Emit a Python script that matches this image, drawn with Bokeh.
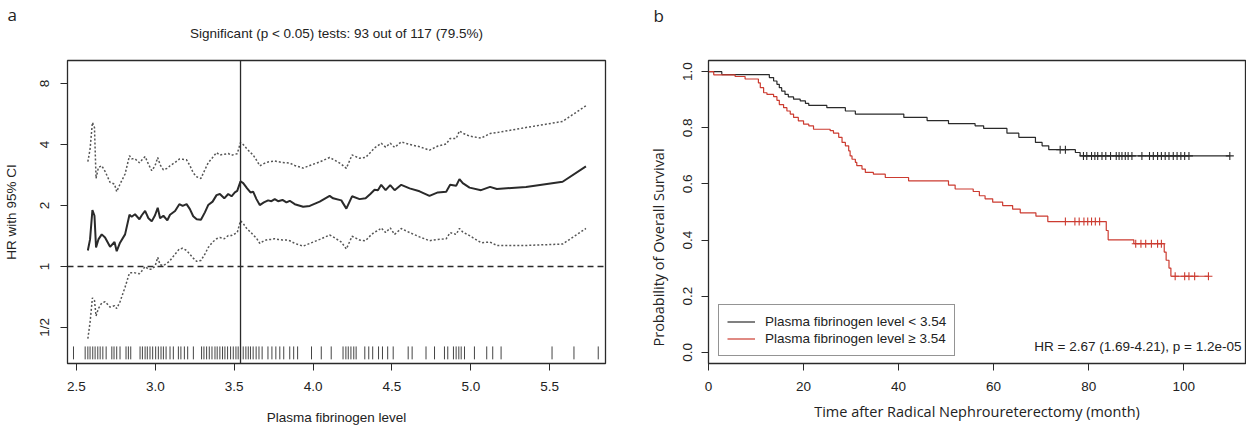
import numpy as np
from bokeh.plotting import figure
from bokeh.layouts import row
from bokeh.models import (Range1d, FixedTicker, PrintfTickFormatter, Span, Label, Title,
                          Legend, LegendItem)
from bokeh.core.properties import value
from bokeh.embed import file_html
from bokeh.resources import INLINE

# ---------------- Panel a: HR over cut-off values ----------------
cutoff_x = [2.572, 2.586, 2.601, 2.614, 2.624, 2.639, 2.660, 2.681, 2.713, 2.741, 2.755, 2.776,
            2.808, 2.836, 2.850, 2.871, 2.899, 2.914, 2.935, 2.956, 2.977, 2.998, 3.015, 3.030,
            3.051, 3.076, 3.093, 3.125, 3.152, 3.173, 3.198, 3.219, 3.240, 3.262, 3.289, 3.314,
            3.335, 3.363, 3.388, 3.409, 3.437, 3.462, 3.483, 3.504, 3.519, 3.540, 3.557, 3.582,
            3.603, 3.620, 3.641, 3.662, 3.688, 3.715, 3.736, 3.757, 3.778, 3.806, 3.831, 3.852,
            3.884, 3.937, 3.979, 4.042, 4.105, 4.127, 4.179, 4.211, 4.247, 4.295, 4.333, 4.363,
            4.390, 4.411, 4.432, 4.460, 4.489, 4.517, 4.559, 4.612, 4.675, 4.738, 4.791, 4.844,
            4.869, 4.907, 4.928, 4.949, 4.992, 5.065, 5.122, 5.165, 5.350, 5.582, 5.730]
hr = [1.20, 1.36, 1.90, 1.78, 1.24, 1.36, 1.44, 1.39, 1.25, 1.32, 1.19, 1.31,
      1.44, 1.80, 1.76, 1.81, 1.71, 1.79, 1.88, 1.73, 1.67, 1.79, 1.95, 1.73,
      1.78, 1.69, 1.80, 1.88, 2.03, 1.99, 2.03, 1.92, 1.77, 1.71, 1.70, 1.85,
      2.01, 2.09, 2.25, 2.28, 2.17, 2.28, 2.22, 2.32, 2.36, 2.63, 2.58, 2.43,
      2.32, 2.34, 2.15, 2.01, 2.07, 2.12, 2.10, 2.15, 2.10, 2.13, 2.07, 2.11,
      2.03, 1.97, 1.99, 2.09, 2.23, 2.17, 2.12, 1.93, 2.22, 2.15, 2.17, 2.28,
      2.39, 2.38, 2.53, 2.38, 2.52, 2.38, 2.53, 2.43, 2.35, 2.23, 2.32, 2.34,
      2.53, 2.50, 2.70, 2.58, 2.45, 2.38, 2.47, 2.41, 2.47, 2.62, 3.12]
hr_upper = [3.29, 3.79, 5.14, 4.85, 2.72, 3.08, 3.14, 2.95, 2.60, 2.55, 2.34, 2.55,
            2.86, 3.52, 3.40, 3.40, 3.25, 3.35, 3.49, 3.20, 2.97, 3.14, 3.45, 3.18,
            3.00, 3.05, 3.14, 3.26, 3.39, 3.38, 3.36, 3.15, 2.90, 2.77, 2.72, 3.00,
            3.25, 3.45, 3.65, 3.55, 3.58, 3.61, 3.54, 3.58, 3.60, 4.09, 4.00, 3.80,
            3.65, 3.55, 3.35, 3.14, 3.22, 3.28, 3.30, 3.32, 3.29, 3.26, 3.25, 3.24,
            3.15, 3.06, 3.15, 3.28, 3.45, 3.38, 3.20, 3.05, 3.55, 3.42, 3.45, 3.65,
            3.85, 3.95, 4.06, 3.88, 4.06, 3.87, 4.12, 4.00, 3.90, 3.75, 3.93, 4.02,
            4.28, 4.28, 4.67, 4.55, 4.40, 4.30, 4.53, 4.58, 4.85, 5.20, 6.21]
hr_lower = [0.44, 0.53, 0.70, 0.68, 0.57, 0.62, 0.66, 0.67, 0.63, 0.64, 0.62, 0.67,
            0.79, 0.93, 0.93, 0.93, 0.92, 0.95, 1.00, 0.97, 0.97, 1.00, 1.11, 1.02,
            1.01, 1.04, 1.07, 1.15, 1.22, 1.23, 1.20, 1.15, 1.10, 1.06, 1.07, 1.15,
            1.24, 1.32, 1.37, 1.39, 1.37, 1.42, 1.42, 1.45, 1.47, 1.68, 1.63, 1.53,
            1.48, 1.43, 1.38, 1.30, 1.34, 1.36, 1.36, 1.37, 1.36, 1.35, 1.35, 1.34,
            1.30, 1.26, 1.30, 1.36, 1.43, 1.40, 1.32, 1.22, 1.41, 1.35, 1.34, 1.42,
            1.48, 1.50, 1.55, 1.47, 1.55, 1.44, 1.54, 1.47, 1.40, 1.34, 1.36, 1.37,
            1.47, 1.44, 1.54, 1.48, 1.42, 1.31, 1.32, 1.27, 1.27, 1.29, 1.54]
rug_values = [2.481, 2.555, 2.572, 2.586, 2.603, 2.618, 2.635, 2.650, 2.667, 2.688, 2.724, 2.738,
              2.755, 2.776, 2.814, 2.829, 2.844, 2.903, 2.918, 2.935, 2.949, 2.966, 2.983, 3.002,
              3.019, 3.036, 3.051, 3.068, 3.093, 3.114, 3.146, 3.162, 3.184, 3.205, 3.241, 3.293,
              3.308, 3.325, 3.342, 3.359, 3.378, 3.392, 3.409, 3.426, 3.441, 3.458, 3.477, 3.494,
              3.511, 3.525, 3.540, 3.557, 3.574, 3.589, 3.603, 3.620, 3.639, 3.657, 3.677, 3.714,
              3.739, 3.764, 3.789, 3.814, 3.852, 3.877, 3.902, 3.990, 4.052, 4.115, 4.190, 4.208,
              4.223, 4.240, 4.258, 4.273, 4.328, 4.353, 4.378, 4.415, 4.440, 4.473, 4.508, 4.603,
              4.628, 4.716, 4.770, 4.833, 4.854, 4.890, 4.907, 4.924, 4.939, 4.960, 5.023, 5.101,
              5.139, 5.192, 5.515, 5.654, 5.808]
chosen_cutoff = 3.54
hr_ticks = [0.5, 1, 2, 4, 8]
hr_tick_labels = ["1/2", "1", "2", "4", "8"]
fib_ticks = [2.5, 3.0, 3.5, 4.0, 4.5, 5.0, 5.5]
title_a = "Significant (p < 0.05) tests: 93 out of 117 (79.5%)"

# ---------------- Panel b: Kaplan-Meier ----------------
time_low = [0, 2.8, 12.8, 13.7, 14.4, 14.9, 15.4, 16.1, 16.8, 17.9, 19.3, 20.4, 21.1, 24.9,
            28.8, 30.9, 41.1, 46.0, 50.5, 56.1, 57.9, 62.8, 65.3, 68.8, 70.2, 71.6, 77.2, 78.2]
surv_low = [1.0, 0.990, 0.979, 0.967, 0.955, 0.943, 0.931, 0.919, 0.910, 0.902, 0.896, 0.887,
            0.880, 0.872, 0.860, 0.849, 0.837, 0.826, 0.815, 0.807, 0.798, 0.781, 0.766, 0.748,
            0.736, 0.722, 0.712, 0.700]
cens_low = [74.0, 75.1, 78.9, 79.6, 80.6, 81.3, 81.9, 82.8, 83.6, 84.6, 85.8, 86.4, 87.0, 87.7,
            88.3, 89.1, 91.2, 92.8, 93.6, 94.5, 95.3, 96.1, 96.9, 97.8, 98.6, 99.4, 100.2, 101.1, 109.7]
time_high = [0, 1.1, 5.6, 7.7, 10.5, 10.9, 11.6, 12.3, 13.7, 14.4, 14.9, 15.8, 16.5, 17.2, 17.9,
             18.9, 20.0, 21.1, 22.1, 25.6, 26.3, 27.4, 28.1, 28.8, 29.5, 29.8, 30.2, 30.9, 31.2,
             32.3, 33.0, 34.7, 37.2, 42.1, 50.5, 51.9, 55.7, 57.0, 58.2, 59.8, 61.9, 64.0, 65.6,
             68.9, 71.4, 83.7, 84.1, 89.5, 95.9, 96.3, 96.9, 97.3]
surv_high = [1.0, 0.989, 0.983, 0.974, 0.960, 0.943, 0.925, 0.919, 0.911, 0.898, 0.883, 0.872,
             0.860, 0.849, 0.837, 0.825, 0.813, 0.807, 0.795, 0.790, 0.781, 0.766, 0.748, 0.736,
             0.718, 0.700, 0.688, 0.677, 0.665, 0.653, 0.641, 0.635, 0.623, 0.611, 0.596, 0.582,
             0.573, 0.558, 0.547, 0.535, 0.523, 0.510, 0.497, 0.485, 0.466, 0.434, 0.401, 0.387,
             0.357, 0.328, 0.300, 0.271]
cens_high = [75.1, 77.1, 78.0, 79.0, 79.8, 80.6, 81.4, 82.3, 89.9, 91.0, 92.0, 93.2, 94.5, 95.3,
             98.2, 100.2, 101.1, 102.3, 105.2]
month_ticks = [0, 20, 40, 60, 80, 100]
prob_ticks = [0.0, 0.2, 0.4, 0.6, 0.8, 1.0]
label_low = "Plasma fibrinogen level < 3.54"
label_high = "Plasma fibrinogen level \u2265 3.54"
hr_text = "HR = 2.67 (1.69-4.21), p = 1.2e-05"
ylabel_b = "Probability of Overall Survival"

INK = "#2a2a2a"
RED = "#cc3b30"
SANS = "Liberation Sans"
FS = "13.5px"


def style_axes(p, font):
    for ax in (p.xaxis[0], p.yaxis[0]):
        ax.axis_line_color = None
        ax.major_tick_out = 7
        ax.major_tick_in = 0
        ax.minor_tick_out = 0
        ax.minor_tick_in = 0
        ax.major_tick_line_color = INK
        ax.major_label_text_font = SANS
        ax.major_label_text_font_size = FS
        ax.major_label_text_color = "#222222"
        ax.axis_label_text_font = font
        ax.axis_label_text_font_style = "normal"
        ax.axis_label_text_color = "#222222"
    p.yaxis.major_label_orientation = "vertical"
    p.grid.visible = False
    p.outline_line_color = INK
    p.outline_line_width = 1.3


def add_title(p, text, font, size, standoff, align="center", offset=0, valign="bottom",
              side="above"):
    t = Title(text=text, align=align, offset=offset, text_font=font, text_font_size=size,
              text_font_style="normal", text_color="#222222", standoff=standoff,
              vertical_align=valign)
    p.add_layout(t, side)


# ---- panel a figure ----
pa = figure(width=632, height=429, output_backend="svg", toolbar_location=None, title=None,
            x_range=Range1d(2.443, 5.854), y_range=Range1d(0.332, 10.39), y_axis_type="log",
            min_border_left=66, min_border_right=27, min_border_top=60, min_border_bottom=66)
style_axes(pa, SANS)
pa.xaxis.ticker = FixedTicker(ticks=fib_ticks)
pa.xaxis.formatter = PrintfTickFormatter(format="%.1f")
pa.yaxis.ticker = FixedTicker(ticks=hr_ticks)
pa.yaxis.major_label_overrides = {float(k): v for k, v in zip(hr_ticks, hr_tick_labels)}
pa.xaxis.axis_label = "Plasma fibrinogen level"
pa.yaxis.axis_label = "HR with 95% CI"
pa.xaxis.axis_label_text_font_size = FS
pa.yaxis.axis_label_text_font_size = FS
pa.xaxis.major_label_standoff = 11
pa.yaxis.major_label_standoff = 8
pa.xaxis.axis_label_standoff = 16
pa.yaxis.axis_label_standoff = 16

pa.add_layout(Span(location=1, dimension="width", line_color=INK, line_dash="6 4", line_width=1.3))
pa.add_layout(Span(location=chosen_cutoff, dimension="height", line_color=INK, line_width=1.3))
pa.line(cutoff_x, hr_upper, line_color="#555555", line_dash="2 2", line_width=1.5)
pa.line(cutoff_x, hr_lower, line_color="#555555", line_dash="2 2", line_width=1.5)
pa.line(cutoff_x, hr, line_color=INK, line_width=2)
pa.segment(x0=rug_values, x1=rug_values, y0=[0.348] * len(rug_values), y1=[0.403] * len(rug_values),
           line_color="#444444", line_width=1)

# titles stacked from the frame upwards: spacer, subtitle, panel letter
add_title(pa, " ", SANS, FS, 1)
add_title(pa, title_a, SANS, FS, 0, valign="top")
add_title(pa, "a", "Open Sans", "17px", 0, align="left", offset=-60, valign="bottom")

# ---- panel b figure ----
pb = figure(width=614, height=429, output_backend="svg", toolbar_location=None, title=None,
            x_range=Range1d(0, 113), y_range=Range1d(-0.04, 1.04),
            min_border_left=76, min_border_right=1, min_border_top=60, min_border_bottom=65)
style_axes(pb, "Open Sans")
pb.xaxis.ticker = FixedTicker(ticks=month_ticks)
pb.yaxis.ticker = FixedTicker(ticks=prob_ticks)
pb.yaxis.formatter = PrintfTickFormatter(format="%.1f")
pb.xaxis.axis_label = "Time after Radical Nephroureterectomy (month)"
pb.xaxis.axis_label_text_font_size = "14.5px"
pb.xaxis.major_label_standoff = 11
pb.yaxis.major_label_standoff = 9
pb.xaxis.axis_label_standoff = 8
# y label of panel b sits lower than the frame centre: drawn as a left-side title
add_title(pb, ylabel_b, "Open Sans", "14.5px", 22, align="left", offset=17, valign="top",
          side="left")

t_lo = np.array(time_low)
s_lo = np.array(surv_low)
t_hi = np.array(time_high)
s_hi = np.array(surv_high)
end_lo = max(cens_low)
end_hi = max(cens_high)
r_lo = pb.step(list(t_lo) + [end_lo], list(s_lo) + [s_lo[-1]], mode="after",
               line_color=INK, line_width=1.2)
r_hi = pb.step(list(t_hi) + [end_hi], list(s_hi) + [s_hi[-1]], mode="after",
               line_color=RED, line_width=1.2)
c_lo = np.array(cens_low)
c_hi = np.array(cens_high)
y_clo = s_lo[np.searchsorted(t_lo, c_lo, side="right") - 1]
y_chi = s_hi[np.searchsorted(t_hi, c_hi, side="right") - 1]
pb.scatter(c_lo, y_clo, marker="cross", size=8, line_color=INK, line_width=1.1)
pb.scatter(c_hi, y_chi, marker="cross", size=8, line_color=RED, line_width=1.1)

legend = Legend(items=[LegendItem(label=value(label_low), renderers=[r_lo]),
                       LegendItem(label=value(label_high), renderers=[r_hi])],
                location=(10, 7), padding=8, spacing=0, margin=0,
                glyph_width=28, glyph_height=17, label_height=17, label_standoff=10,
                label_text_font=SANS, label_text_font_size=FS,
                label_text_color="#222222", border_line_color=INK, border_line_width=1.3,
                background_fill_alpha=1)
pb.add_layout(legend)
pb.add_layout(Label(x=533, y=17, x_units="screen", y_units="screen", text=hr_text,
                    text_align="right", text_baseline="middle", text_font=SANS,
                    text_font_size=FS, text_color="#222222"))

add_title(pb, " ", SANS, FS, 15)
add_title(pb, "b", "Open Sans", "17px", 0, align="left", offset=-55, valign="top")

layout = row(pa, pb)
open("out.html", "w").write(file_html(layout, INLINE))
